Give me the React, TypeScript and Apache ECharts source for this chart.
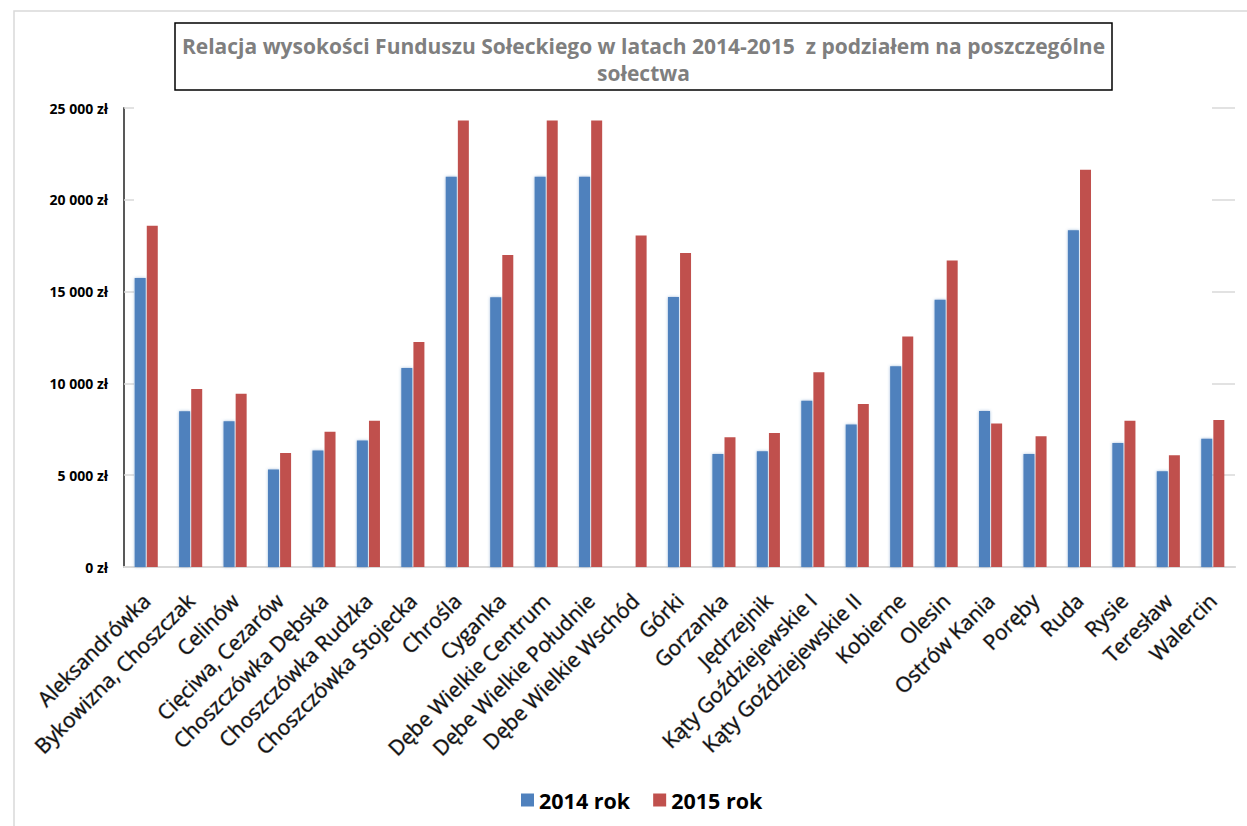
import React, { useEffect, useRef } from "react";
import * as echarts from "echarts";

const titleLines = [
  "Relacja wysokości Funduszu Sołeckiego w latach 2014-2015  z podziałem na poszczególne",
  "sołectwa",
];

const categories = [
  "Aleksandrówka",
  "Bykowizna, Choszczak",
  "Celinów",
  "Cięciwa, Cezarów",
  "Choszczówka Dębska",
  "Choszczówka Rudzka",
  "Choszczówka Stojecka",
  "Chrośla",
  "Cyganka",
  "Dębe Wielkie Centrum",
  "Dębe Wielkie Południe",
  "Dębe Wielkie Wschód",
  "Górki",
  "Gorzanka",
  "Jędrzejnik",
  "Kąty Goździejewskie I",
  "Kąty Goździejewskie II",
  "Kobierne",
  "Olesin",
  "Ostrów Kania",
  "Poręby",
  "Ruda",
  "Rysie",
  "Teresław",
  "Walercin",
];

const seriesNames = ["2014 rok", "2015 rok"];

const values2014 = [
  15740, 8480, 7940, 5310, 6340, 6890, 10840, 21260, 14690, 21260, 21260, 0,
  14700, 6160, 6310, 9050, 7760, 10930, 14560, 8500, 6160, 18340, 6760, 5220,
  6980,
];

const values2015 = [
  18590, 9700, 9430, 6210, 7360, 7970, 12260, 24320, 17000, 24320, 24320,
  18060, 17100, 7070, 7300, 10610, 8880, 12550, 16690, 7810, 7120, 21640, 7960,
  6090, 8010,
];

const yMin = 0;
const yMax = 25000;
const yInterval = 5000;

const fmtZl = (v: number) =>
  String(v).replace(/\B(?=(\d{3})+(?!\d))/g, " ") + " zł";

export default function App() {
  const ref = useRef<HTMLDivElement>(null);

  useEffect(() => {
    if (!ref.current) return;
    const chart = echarts.init(ref.current, null, { renderer: "svg" });
    const gridColor = "#d9d9d9";
    chart.setOption({
      animation: false,
      backgroundColor: "#ffffff",
      graphic: [
        {
          type: "rect",
          silent: true,
          z: -10,
          shape: { x: 14, y: 11, width: 1400, height: 1000 },
          style: { fill: "none", stroke: "#d9d9d9", lineWidth: 1.5 },
        },
        {
          type: "rect",
          silent: true,
          shape: { x: 175, y: 23, width: 937, height: 67 },
          style: { fill: "#ffffff", stroke: "#000000", lineWidth: 1.5 },
        },
        {
          type: "text",
          silent: true,
          x: 643.5,
          y: 46,
          style: {
            text: titleLines[0],
            textAlign: "center",
            textVerticalAlign: "middle",
            fontFamily: "Open Sans",
            fontWeight: "bold",
            fontSize: 21,
            fill: "#7f7f7f",
          },
        },
        {
          type: "text",
          silent: true,
          x: 643.5,
          y: 73,
          style: {
            text: titleLines[1],
            textAlign: "center",
            textVerticalAlign: "middle",
            fontFamily: "Open Sans",
            fontWeight: "bold",
            fontSize: 21,
            fill: "#7f7f7f",
          },
        },
      ],
      legend: {
        data: seriesNames,
        bottom: 10,
        left: 516,
        itemWidth: 13,
        itemHeight: 13,
        itemGap: 23,
        icon: "rect",
        textStyle: {
          fontFamily: "Open Sans",
          fontWeight: "bold",
          fontSize: 21.5,
          color: "#000000",
        },
      },
      grid: {
        left: 124,
        right: 12,
        top: 108,
        bottom: 259,
        containLabel: false,
      },
      xAxis: [
        {
          type: "category",
          data: categories,
          axisLine: { lineStyle: { color: gridColor, width: 2 } },
          axisTick: { show: false },
          axisLabel: {
            interval: 0,
            rotate: 45,
            margin: 30,
            fontFamily: "Open Sans",
            fontSize: 21,
            color: "#111111",
            textBorderColor: "rgba(0,0,0,0.35)",
            textBorderWidth: 1.1,
          },
        },
        {
          type: "category",
          data: categories,
          position: "top",
          axisLine: { show: true, lineStyle: { color: gridColor, width: 1.5 } },
          axisTick: { show: false },
          axisLabel: { show: false },
        },
      ],
      yAxis: [
        {
          type: "value",
          min: yMin,
          max: yMax,
          interval: yInterval,
          axisLine: { show: true, lineStyle: { color: "#595959", width: 2 } },
          axisTick: {
            show: true,
            inside: true,
            length: 10,
            lineStyle: { color: gridColor, width: 1.5 },
          },
          splitLine: { show: false },
          axisLabel: {
            margin: 16,
            fontFamily: "Open Sans",
            fontWeight: "bold",
            fontSize: 14,
            color: "#000000",
            formatter: (v: number) => fmtZl(v),
          },
        },
        {
          type: "value",
          min: yMin,
          max: yMax,
          interval: yInterval,
          position: "right",
          axisLine: { show: false },
          axisTick: {
            show: true,
            inside: true,
            length: 23,
            lineStyle: { color: gridColor, width: 1.5 },
          },
          splitLine: { show: false },
          axisLabel: { show: false },
        },
      ],
      series: [
        {
          name: seriesNames[0],
          type: "bar",
          data: values2014,
          barWidth: 11,
          barGap: "10%",
          itemStyle: {
            color: "#4f81bd",
            shadowBlur: 3,
            shadowColor: "rgba(79,129,189,0.55)",
          },
        },
        {
          name: seriesNames[1],
          type: "bar",
          data: values2015,
          barWidth: 11,
          itemStyle: { color: "#c0504d" },
        },
      ],
    });
    return () => chart.dispose();
  }, []);

  return (
    <div
      ref={ref}
      style={{ position: "absolute", left: 0, top: 0, width: 1247, height: 826 }}
    />
  );
}
